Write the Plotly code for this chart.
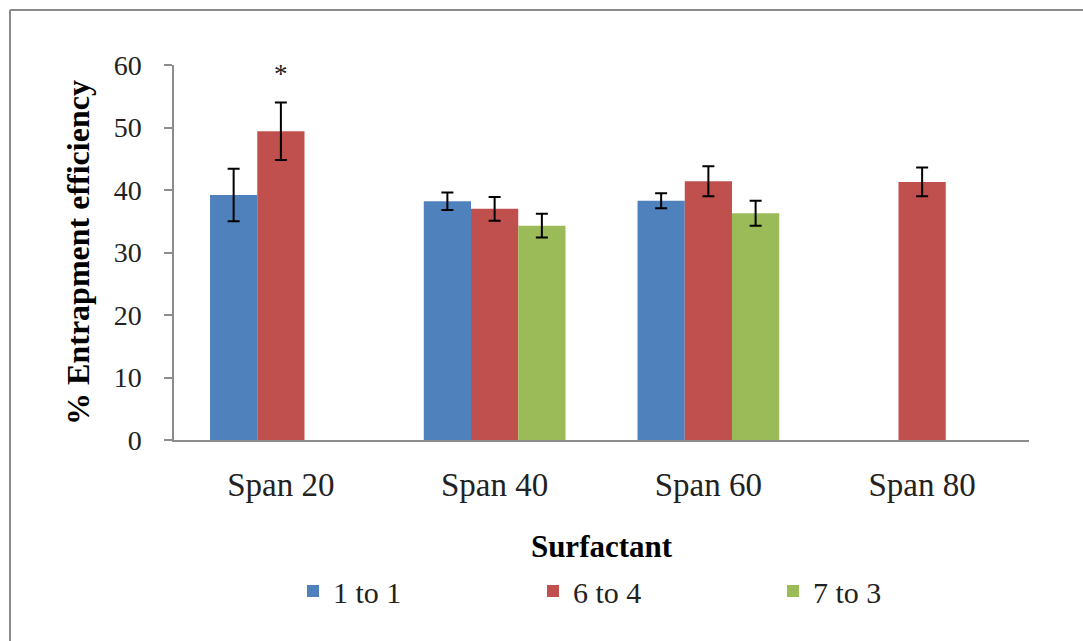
import plotly.graph_objects as go

categories = ["Span 20", "Span 40", "Span 60", "Span 80"]

ratio_1_1 = [39.2, 38.2, 38.3, None]
ratio_1_1_err = [4.2, 1.4, 1.2, None]

ratio_6_4 = [49.4, 37.0, 41.4, 41.3]
ratio_6_4_err = [4.6, 1.9, 2.4, 2.3]

ratio_7_3 = [None, 34.3, 36.3, None]
ratio_7_3_err = [None, 1.9, 2.0, None]

series = [
    ("1 to 1", ratio_1_1, ratio_1_1_err, "#4F81BD"),
    ("6 to 4", ratio_6_4, ratio_6_4_err, "#C0504D"),
    ("7 to 3", ratio_7_3, ratio_7_3_err, "#9BBB59"),
]

FONT = "Liberation Serif, Times New Roman, serif"

fig = go.Figure()
for name, vals, errs, color in series:
    fig.add_trace(go.Bar(
        name=name,
        x=categories,
        y=vals,
        marker=dict(color=color, line=dict(width=0)),
        error_y=dict(type="data", array=errs, visible=True,
                     color="black", thickness=2, width=6),
    ))

# significance marker above the Span 20 / 6 to 4 bar
fig.add_annotation(x="Span 20", y=58.9, text="*", showarrow=False,
                   font=dict(family=FONT, size=27, color="#222"),
                   yanchor="middle", yshift=-2)

# outer frame of the figure (left and top edges fall inside the page)
L, R, T, B = 174, 54, 65, 201
W, H = 1083, 641
pw, ph = W - L - R, H - T - B
def px_x(p):
    return (p - L) / pw
def px_y(p):
    return (H - B - p) / ph
frame = dict(color="#8a8a8a", width=2)
fig.add_shape(type="line", xref="paper", yref="paper",
              x0=px_x(10), x1=px_x(10), y0=px_y(10), y1=px_y(641), line=frame)
fig.add_shape(type="line", xref="paper", yref="paper",
              x0=px_x(10), x1=px_x(1083), y0=px_y(10), y1=px_y(10), line=frame)

fig.update_layout(
    width=W, height=H,
    margin=dict(l=L, r=R, t=T, b=B, pad=0),
    paper_bgcolor="white", plot_bgcolor="white",
    barmode="group", bargap=0.337, bargroupgap=0,
    font=dict(family=FONT, color="#222"),
    showlegend=True,
    legend=dict(orientation="h", x=px_x(293), xanchor="left",
                y=px_y(591), yanchor="middle",
                entrywidth=195, entrywidthmode="pixels",
                font=dict(family=FONT, size=30, color="#222"),
                traceorder="normal"),
    xaxis=dict(
        showline=True, linecolor="#8c8c8c", linewidth=1.5,
        ticks="", showgrid=False, ticklabelstandoff=15,
        tickfont=dict(family=FONT, size=33, color="#222"),
        title=dict(text="<b>Surfactant</b>", standoff=33,
                   font=dict(family=FONT, size=31, color="black")),
    ),
    yaxis=dict(
        range=[0, 60], dtick=10, showline=True, linecolor="#8c8c8c", linewidth=1.5,
        ticks="outside", ticklen=8, tickcolor="#8c8c8c", tickwidth=1.5,
        ticklabelstandoff=17, showgrid=False, zeroline=False,
        tickfont=dict(family=FONT, size=28, color="#222"),
        title=dict(text="<b>% Entrapment efficiency</b>", standoff=14,
                   font=dict(family=FONT, size=32, color="black")),
    ),
)

fig.write_html("out.html")
